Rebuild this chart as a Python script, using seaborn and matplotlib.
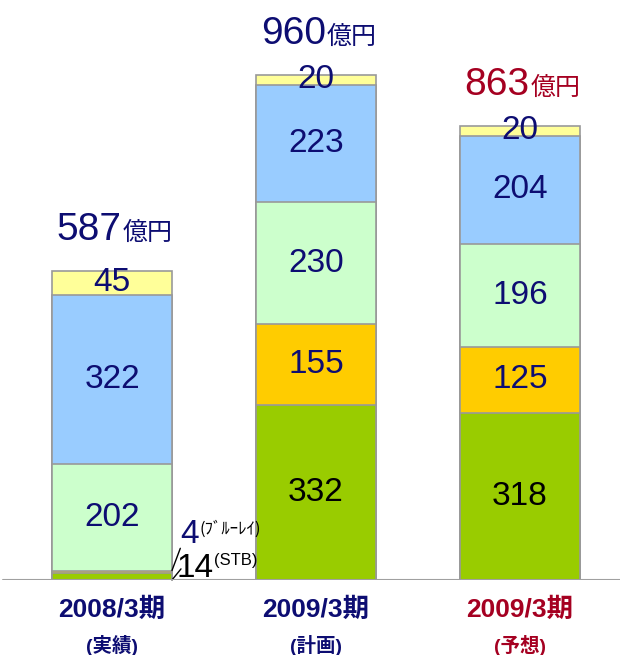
import matplotlib
matplotlib.use("Agg")
import matplotlib.pyplot as plt
import matplotlib.transforms as mtransforms
from matplotlib import font_manager
import seaborn as sns
import pandas as pd
import numpy as np

# ---- data ----
keys = ["a", "b", "c"]
categories = ["2008/3期", "2009/3期", "2009/3期"]
subtitles = ["(実績)", "(計画)", "(予想)"]
stb = [14, 332, 318]
bluray = [4, 155, 125]
layer3 = [202, 230, 196]
layer4 = [322, 223, 204]
layer5 = [45, 20, 20]
totals = [587, 960, 863]
total_unit = "億円"
bluray_note = "(ﾌﾞﾙｰﾚｲ)"
stb_note = "(STB)"

NAVY = "#0d0d72"
RED = "#a50021"
cat_colors = [NAVY, NAVY, RED]
layer_colors = ["#99cc00", "#ffcc00", "#ccffcc", "#99ccff", "#ffff99"]
edge = "#999999"

sns.set_theme(style="white")
names = {f.name for f in font_manager.fontManager.ttflist}
narrow = "Liberation Sans Narrow" if "Liberation Sans Narrow" in names else "Liberation Sans"
plt.rcParams["font.family"] = ["Liberation Sans", "Noto Sans CJK JP", "DejaVu Sans"]

fig = plt.figure(figsize=(6.2, 6.55), dpi=100)
ax = fig.add_axes([0, 75 / 655, 1, 580 / 655])

layers = [stb, bluray, layer3, layer4, layer5]
cum = np.cumsum(np.array(layers), axis=0)
W = 0.588
for i in range(len(layers) - 1, -1, -1):
    df = pd.DataFrame({"k": keys, "v": cum[i]})
    sns.barplot(data=df, x="k", y="v", order=keys, color=layer_colors[i],
                saturation=1, width=W, edgecolor=edge, linewidth=1.2, ax=ax,
                errorbar=None)

ax.set_xlim(-112 / 204, (620 - 112) / 204)
ax.set_ylim(0, 580 / 0.5265)
for s in ax.spines.values():
    s.set_visible(False)
ax.set_xticks([])
ax.set_yticks([])
ax.set_xlabel("")
ax.set_ylabel("")
ax.axhline(0, color="#a0a0a0", lw=1.5, zorder=5, xmin=0.005)

# segment labels
lab_colors = ["black", NAVY, NAVY, NAVY, NAVY]
for j in range(3):
    for i in range(len(layers)):
        v = layers[i][j]
        if v < 20 and i < 2:
            continue
        base = cum[i][j] - v
        ax.text(j, base + v / 2, str(v), ha="center", va="center",
                fontsize=24, color=lab_colors[i], zorder=6)

# totals
for j in range(3):
    ax.annotate(str(totals[j]), xy=(j, totals[j]), xytext=(7, 22),
                textcoords="offset points", ha="right", va="baseline",
                fontsize=28, color=cat_colors[j])
    ax.annotate(total_unit, xy=(j, totals[j]), xytext=(8, 22),
                textcoords="offset points", ha="left", va="baseline",
                fontsize=18, color=cat_colors[j],
                family=["Noto Sans CJK JP"])

# category labels
trans = mtransforms.blended_transform_factory(ax.transData, fig.transFigure)
fs1 = 21 if narrow == "Liberation Sans Narrow" else 19
for j in range(3):
    ax.text(j, 1 - 610 / 655, categories[j], transform=trans, ha="center",
            va="center", fontsize=fs1, fontweight="bold", color=cat_colors[j],
            family=[narrow, "Noto Sans CJK JP"])
    ax.text(j, 1 - 645 / 655, subtitles[j], transform=trans, ha="center",
            va="center", fontsize=14, fontweight="bold", color=cat_colors[j],
            family=[narrow, "Noto Sans CJK JP"])

# notes for small segments of first bar
xe = W / 2
top_small = stb[0] + bluray[0]
ax.annotate("", xy=(xe, top_small), xytext=(6, 16),
            textcoords="offset points",
            arrowprops=dict(arrowstyle="-", color="black", lw=1.0,
                            shrinkA=0, shrinkB=0))
ax.annotate("", xy=(xe, 0), xytext=(6.5, 8), textcoords="offset points",
            arrowprops=dict(arrowstyle="-", color="black", lw=1.0,
                            shrinkA=0, shrinkB=0))
ax.annotate(str(bluray[0]), xy=(xe, top_small), xytext=(6, 20),
            textcoords="offset points", ha="left", va="baseline",
            fontsize=24, color=NAVY)
ax.annotate(bluray_note, xy=(xe, top_small), xytext=(19.5, 36),
            textcoords="offset points", ha="left", va="top",
            fontsize=12, color="black", family=["Noto Sans CJK JP"])
ax.annotate(str(stb[0]), xy=(xe, 0), xytext=(3, 2),
            textcoords="offset points", ha="left", va="baseline",
            fontsize=24, color="black")
ax.annotate(stb_note, xy=(xe, 0), xytext=(30, 19.5),
            textcoords="offset points", ha="left", va="top",
            fontsize=12, color="black")

fig.savefig("out.png", dpi=100)
